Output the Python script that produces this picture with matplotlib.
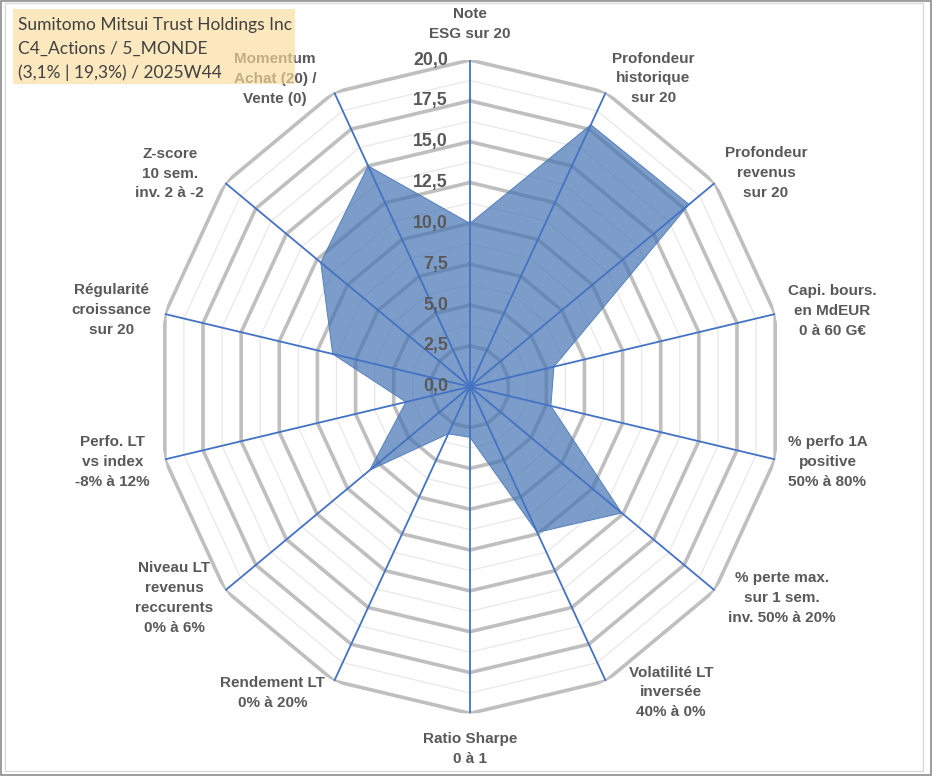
import numpy as np
import matplotlib
matplotlib.use("Agg")
import matplotlib.pyplot as plt
from matplotlib.patches import Rectangle

# ---------------- data ----------------
categories = [
    "Note\nESG sur 20",
    "Profondeur\nhistorique\nsur 20",
    "Profondeur\nrevenus\nsur 20",
    "Capi. bours.\nen MdEUR\n0 à 60 G€",
    "% perfo 1A\npositive\n50% à 80%",
    "% perte max.\nsur 1 sem.\ninv. 50% à 20%",
    "Volatilité LT\ninversée\n40% à 0%",
    "Ratio Sharpe\n0 à 1",
    "Rendement LT\n0% à 20%",
    "Niveau LT\nrevenus\nreccurents\n0% à 6%",
    "Perfo. LT\nvs index\n-8% à 12%",
    "Régularité\ncroissance\nsur 20",
    "Z-score\n10 sem.\ninv. 2 à -2",
    "Momentum\nAchat (20) /\nVente (0)",
]
values = [10.0, 17.8, 17.9, 5.5, 5.3, 12.4, 9.9, 3.1, 3.2, 8.2, 4.2, 9.0, 12.2, 15.0]
tick_values = [0.0, 2.5, 5.0, 7.5, 10.0, 12.5, 15.0, 17.5, 20.0]
tick_labels = ["0,0", "2,5", "5,0", "7,5", "10,0", "12,5", "15,0", "17,5", "20,0"]
title_lines = ["Sumitomo Mitsui Trust Holdings Inc",
               "C4_Actions / 5_MONDE",
               "(3,1% | 19,3%) / 2025W44"]

# label placement (layout only): angle in degrees, radius in data units
label_pos = [(0.0, 22.2), (31.8, 22.2), (55.3, 23.0), (78.7, 23.6), (101.4, 23.3),
             (123.0, 23.75), (145.5, 22.7), (180.0, 22.2), (213.9, 22.6),
             (235.6, 22.9), (258.6, 23.3), (281.6, 23.4), (304.2, 23.2), (326.5, 22.6)]

# ---------------- figure ----------------
W, H = 933, 776
fig = plt.figure(figsize=(W / 100, H / 100), dpi=100)
fig.patch.set_facecolor("white")

cx, cy = 470, 386.7
rx, ry = 313, 326.7
ax = fig.add_axes([(cx - rx) / W, (H - cy - ry) / H, 2 * rx / W, 2 * ry / H],
                  projection="polar")
ax.set_aspect("auto")
ax.set_theta_zero_location("N")
ax.set_theta_direction(-1)
ax.set_ylim(0, 20)
ax.grid(False)
ax.set_xticks([])
ax.set_yticks([])
ax.spines["polar"].set_visible(False)
ax.patch.set_alpha(0)

n = len(categories)
theta = np.linspace(0, 2 * np.pi, n, endpoint=False)
theta_c = np.append(theta, theta[0])

# polygon rings
for k in range(1, 17):
    r = 1.25 * k
    if k % 2 == 0:
        ax.plot(theta_c, [r] * (n + 1), color="#BFBFBF", lw=2.6, zorder=2,
                solid_joinstyle="miter")
    else:
        ax.plot(theta_c, [r] * (n + 1), color="#E8E8E8", lw=0.9, zorder=1)

# series fill
vals_c = np.append(values, values[0])
ax.fill(theta_c, vals_c, facecolor=(68 / 255, 116 / 255, 178 / 255), alpha=0.7,
        edgecolor="none", zorder=3)
ax.plot(theta_c, vals_c, color="#5580BF", lw=0.7, zorder=3.5)

# spokes
for t in theta:
    ax.plot([t, t], [0, 20], color="#4472C4", lw=1.3, zorder=4)

# radial tick labels
for v, s in zip(tick_values, tick_labels):
    ax.annotate(s, xy=(0, v), xytext=(-22, 0), textcoords="offset pixels",
                ha="right", va="center", fontsize=12.8, fontweight="bold",
                color="#595959", family="Liberation Sans", zorder=5)

# category labels
for lbl, (adeg, rr) in zip(categories, label_pos):
    ax.text(np.deg2rad(adeg), rr, lbl, ha="center", va="center",
            fontsize=11, fontweight="bold", color="#595959",
            family="Liberation Sans", linespacing=1.52, zorder=5)

# title box (semi-transparent over the Momentum label)
fig.add_artist(Rectangle((13 / W, 1 - 84 / H), (295 - 13) / W, (84 - 9) / H,
                         transform=fig.transFigure, facecolor=(250 / 255, 220 / 255, 155 / 255),
                         alpha=0.65, edgecolor="none", zorder=10))
for i, line in enumerate(title_lines):
    fig.text(18 / W, 1 - (25 + 24 * i) / H, line, ha="left", va="center",
             fontsize=12.5, color="#404040", family="Lato", zorder=11)

# chart borders
fig.add_artist(Rectangle((5 / W, 1 - 771 / H), (923 - 5) / W, (771 - 3) / H,
                         transform=fig.transFigure, facecolor="none",
                         edgecolor="#D9D9D9", lw=1.0, zorder=12))
fig.add_artist(Rectangle((1 / W, 1 / H), (931 - 1) / W, (774) / H,
                         transform=fig.transFigure, facecolor="none",
                         edgecolor="#8C8C8C", lw=1.2, zorder=12))

fig.savefig("out.png", dpi=100, facecolor="white")
